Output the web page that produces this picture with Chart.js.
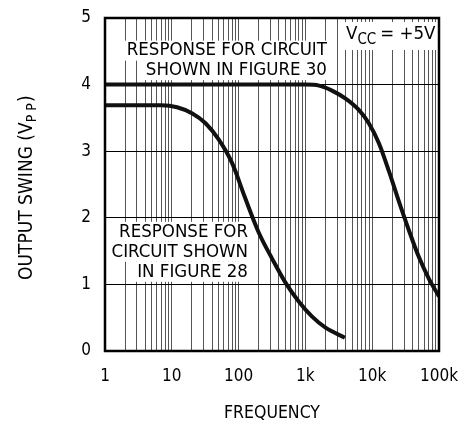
<!DOCTYPE html>
<html>
<head>
<meta charset="utf-8">
<script src="https://cdn.jsdelivr.net/npm/chart.js@4.4.1/dist/chart.umd.min.js"></script>
<style>
  body { margin: 0; background: #fff; }
  canvas { display: block; }
</style>
</head>
<body>
<canvas id="swingChart" width="460" height="427"></canvas>
<script>
// values
const fig30Freq = [1, 10, 100, 1000, 1600, 2500, 4000, 6300, 8900, 12600, 17800, 25000, 35500, 50000, 71000, 100000]
const fig30Vpp = [4.0, 4.0, 4.0, 4.0, 3.985, 3.91, 3.79, 3.62, 3.42, 3.12, 2.70, 2.25, 1.81, 1.41, 1.08, 0.82]

const fig28Freq = [1, 3, 7, 12, 20, 32, 50, 80, 125, 200, 320, 500, 800, 1250, 2000, 3900]
const fig28Vpp = [3.69, 3.69, 3.69, 3.66, 3.57, 3.42, 3.18, 2.82, 2.30, 1.78, 1.38, 1.03, 0.74, 0.52, 0.35, 0.2]

const xTickLabels = { 1: '1', 10: '10', 100: '100', 1000: '1k', 10000: '10k', 100000: '100k' }
const yTicks = [0, 1, 2, 3, 4, 5]

const FONT = "'DejaVu Sans Condensed', 'Liberation Sans Narrow', sans-serif"
Chart.defaults.font.family = FONT
Chart.defaults.color = '#000'

function toPoints(xs, ys) {
    return xs.map((x, i) => ({ x: x, y: ys[i] }))
}

// text blocks with white backing, drawn over grid but under curves
const labelsPlugin = {
    id: 'labels',
    beforeDatasetsDraw(chart) {
        const ctx = chart.ctx
        const xs = chart.scales.x
        const ys = chart.scales.y
        ctx.save()
        ctx.font = '18.5px ' + FONT
        ctx.textBaseline = 'middle'
        ctx.textAlign = 'right'

        function block(lines, rightX, topY, gap) {
            lines.forEach((t, i) => {
                const w = ctx.measureText(t).width
                const y = topY + i * gap
                ctx.fillStyle = '#fff'
                ctx.fillRect(rightX - w - 3, y - 10, w + 6, 20)
            })
            lines.forEach((t, i) => {
                ctx.fillStyle = '#000'
                ctx.fillText(t, rightX, topY + i * gap)
            })
        }

        block(['RESPONSE FOR CIRCUIT', 'SHOWN IN FIGURE 30'], xs.getPixelForValue(2100), ys.getPixelForValue(4.51), 19.5)
        block(['RESPONSE FOR', 'CIRCUIT SHOWN', 'IN FIGURE 28'], xs.getPixelForValue(138), ys.getPixelForValue(1.79), 20)

        // Vcc box
        const area = chart.chartArea
        const bx = area.right - 96
        ctx.fillStyle = '#fff'
        ctx.fillRect(bx, area.top + 4, area.right - bx, 28)
        ctx.fillStyle = '#000'
        ctx.textAlign = 'left'
        let cx = bx + 3
        const cy = area.top + 16
        ctx.fillText('V', cx, cy)
        cx += ctx.measureText('V').width
        ctx.font = '15px ' + FONT
        ctx.fillText('CC', cx, cy + 6)
        cx += ctx.measureText('CC').width + 4
        ctx.font = '18.5px ' + FONT
        ctx.fillText('= +5V', cx, cy)

        // y axis title with subscript
        ctx.translate(25, 280)
        ctx.rotate(-Math.PI / 2)
        ctx.textBaseline = 'alphabetic'
        ctx.font = '19px ' + FONT
        let tx = 0
        const main = 'OUTPUT SWING (V'
        ctx.fillText(main, tx, 7)
        tx += ctx.measureText(main).width
        ctx.font = '14px ' + FONT
        ctx.fillText('P P', tx, 11)
        tx += ctx.measureText('P P').width + 1
        ctx.font = '19px ' + FONT
        ctx.fillText(')', tx, 7)
        ctx.restore()
    },
    afterDraw(chart) {
        const a = chart.chartArea
        const ctx = chart.ctx
        ctx.save()
        ctx.strokeStyle = '#000'
        ctx.lineWidth = 2.5
        ctx.strokeRect(a.left, a.top, a.right - a.left, a.bottom - a.top)
        ctx.restore()
    }
}

new Chart(document.getElementById('swingChart'), {
    type: 'line',
    data: {
        datasets: [{
            label: 'Figure 30',
            data: toPoints(fig30Freq, fig30Vpp),
            borderColor: '#111',
            borderWidth: 4,
            pointRadius: 0,
            cubicInterpolationMode: 'monotone',
            fill: false
        }, {
            label: 'Figure 28',
            data: toPoints(fig28Freq, fig28Vpp),
            borderColor: '#111',
            borderWidth: 4,
            pointRadius: 0,
            cubicInterpolationMode: 'monotone',
            fill: false
        }]
    },
    options: {
        responsive: false,
        animation: false,
        layout: {
            padding: { top: 18, right: 21, left: 0, bottom: 0 }
        },
        plugins: {
            legend: { display: false },
            tooltip: { enabled: false }
        },
        scales: {
            x: {
                type: 'logarithmic',
                min: 1,
                max: 100000,
                afterBuildTicks: function (scale) {
                    let ticks = []
                    for (let d = 1; d < 100000; d *= 10) {
                        for (let m = 1; m < 10; m++) ticks.push({ value: d * m })
                    }
                    ticks.push({ value: 100000 })
                    scale.ticks = ticks
                },
                afterFit: function (scale) {
                    scale.height = 76
                    scale.paddingLeft = 0
                    scale.paddingRight = 0
                },
                grid: {
                    color: '#555',
                    lineWidth: 1,
                    drawTicks: false
                },
                border: { display: false },
                ticks: {
                    autoSkip: false,
                    maxRotation: 0,
                    padding: 15,
                    font: { size: 17 },
                    callback: function (value) {
                        return xTickLabels[value] || ''
                    }
                },
                title: {
                    display: true,
                    text: 'FREQUENCY',
                    font: { size: 17.5 },
                    padding: { top: 0, bottom: 3 }
                }
            },
            y: {
                min: 0,
                max: 5,
                afterBuildTicks: function (scale) {
                    scale.ticks = yTicks.map(v => ({ value: v }))
                },
                afterFit: function (scale) {
                    scale.width = 105
                    scale.paddingTop = 0
                    scale.paddingBottom = 0
                },
                grid: {
                    color: '#000',
                    lineWidth: 1,
                    drawTicks: false
                },
                border: { display: false },
                ticks: {
                    padding: 14,
                    font: { size: 17 }
                }
            }
        }
    },
    plugins: [labelsPlugin]
});
</script>
</body>
</html>
